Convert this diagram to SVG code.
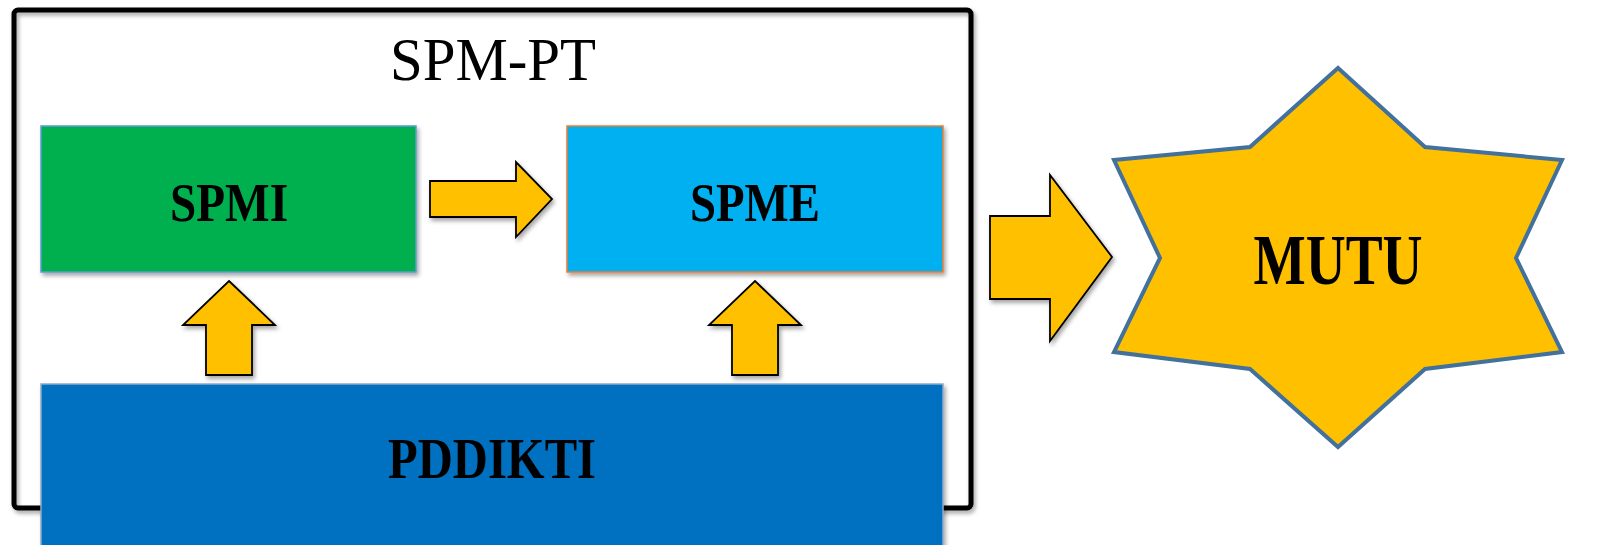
<svg xmlns="http://www.w3.org/2000/svg" width="1618" height="545" viewBox="0 0 1618 545">
<defs>
<filter id="sh" x="-10%" y="-10%" width="130%" height="140%">
<feDropShadow dx="2" dy="3" stdDeviation="2" flood-color="#000" flood-opacity="0.35"/>
</filter>
<style>
.arrow{fill:#FFC000;stroke:#000;stroke-width:1.8;stroke-linejoin:miter;filter:url(#sh)}
.lbl{font-family:"Liberation Serif","DejaVu Serif",serif;font-weight:bold;fill:#000;text-anchor:middle}
</style>
</defs>
<rect width="1618" height="545" fill="#fff"/>
<g id="spmpt">
<rect x="14" y="10" width="957" height="498" rx="4" fill="none" stroke="#000" stroke-width="5" filter="url(#sh)"/>
<text x="493" y="80" font-family="'Liberation Serif','DejaVu Serif',serif" font-size="62" text-anchor="middle" textLength="206" lengthAdjust="spacingAndGlyphs">SPM-PT</text>
</g>
<g id="spmi">
<rect x="41" y="126" width="375" height="146" fill="#00B050" stroke="#5B9BD5" stroke-width="1.5" filter="url(#sh)"/>
<text class="lbl" x="229" y="221" font-size="54" textLength="118" lengthAdjust="spacingAndGlyphs">SPMI</text>
</g>
<g id="spme">
<rect x="567" y="126" width="376" height="146" fill="#00B0F0" stroke="#ED7D31" stroke-width="1.5" filter="url(#sh)"/>
<text class="lbl" x="755" y="221" font-size="54" textLength="130" lengthAdjust="spacingAndGlyphs">SPME</text>
</g>
<g id="pddikti">
<rect x="41" y="384" width="902" height="170" fill="#0070C0" stroke="#8EA9C8" stroke-width="1.5" filter="url(#sh)"/>
<text class="lbl" x="492" y="478" font-size="56" textLength="208" lengthAdjust="spacingAndGlyphs">PDDIKTI</text>
</g>
<g id="mutu">
<polygon points="1338,68 1425,147 1562,160 1516,258 1562,352 1425,369 1338,447 1250,369 1114,352 1160,258 1114,160 1250,147" fill="#FFC000" stroke="#41719C" stroke-width="4" stroke-linejoin="miter"/>
<text class="lbl" x="1338" y="284" font-size="72" textLength="169" lengthAdjust="spacingAndGlyphs">MUTU</text>
</g>
<g id="connectors">
<polygon class="arrow" points="430,181 516,181 516,162 552,199 516,237 516,217 430,217"/>
<polygon class="arrow" points="229,281 275,325 252,325 252,375 206,375 206,325 183,325"/>
<polygon class="arrow" points="755,281 801,325 778,325 778,375 732,375 732,325 709,325"/>
<polygon class="arrow" points="990,216 1050,216 1050,175 1112,257 1050,341 1050,299 990,299"/>
</g>
</svg>
